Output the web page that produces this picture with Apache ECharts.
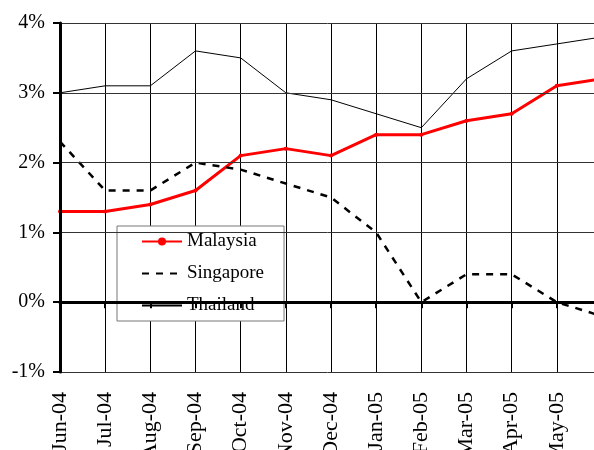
<!DOCTYPE html>
<html>
<head>
<meta charset="utf-8">
<script src="https://cdn.jsdelivr.net/npm/echarts@6/dist/echarts.min.js"></script>
<style>
  html, body { margin: 0; padding: 0; background: #fff; }
  #chart { width: 594px; height: 450px; }
</style>
</head>
<body>
<div id="chart"></div>
<script>
// months along the bottom
const months = ['Jun-04', 'Jul-04', 'Aug-04', 'Sep-04', 'Oct-04', 'Nov-04', 'Dec-04',
  'Jan-05', 'Feb-05', 'Mar-05', 'Apr-05', 'May-05', 'Jun-05'];

// inflation, % per year
const malaysia = [1.3, 1.3, 1.4, 1.6, 2.1, 2.2, 2.1, 2.4, 2.4, 2.6, 2.7, 3.1, 3.2];
const singapore = [2.3, 1.6, 1.6, 2.0, 1.9, 1.7, 1.5, 1.0, 0.0, 0.4, 0.4, 0.0, -0.2];
const thailand = [3.0, 3.1, 3.1, 3.6, 3.5, 3.0, 2.9, 2.7, 2.5, 3.2, 3.6, 3.7, 3.8];

const yTicks = [-1, 0, 1, 2, 3, 4];

const serif = 'Liberation Serif';

let chart = echarts.init(document.getElementById('chart'));

chart.setOption({
  animation: false,
  grid: { left: 60, right: -8, top: 23, bottom: 78, outerBoundsMode: 'none', containLabel: false },
  legend: {
    orient: 'vertical',
    left: 117,
    top: 226,
    padding: [6, 20, 6, 24],
    itemGap: 13,
    itemWidth: 40,
    itemHeight: 10,
    itemTextGap: 3,
    backgroundColor: '#fff',
    borderColor: '#777',
    borderWidth: 1,
    textStyle: { fontFamily: serif, fontSize: 19, color: '#000' },
    data: [
      { name: 'Malaysia' },
      { name: 'Singapore', itemStyle: { opacity: 0 } },
      { name: 'Thailand', itemStyle: { opacity: 0 } }
    ]
  },
  xAxis: [
    {
      type: 'category',
      data: months,
      boundaryGap: false,
      axisLine: { show: false, onZero: false },
      axisTick: { show: false },
      axisLabel: {
        rotate: 90,
        margin: 20,
        interval: 0,
        showMaxLabel: true,
        hideOverlap: false,
        fontFamily: serif,
        fontSize: 22,
        color: '#000'
      },
      splitLine: { show: true, lineStyle: { color: '#000', width: 1 } }
    },
    {
      // the thick zero line with its little ticks
      type: 'category',
      data: months,
      boundaryGap: false,
      position: 'bottom',
      z: 10,
      axisLine: { show: true, onZero: true, lineStyle: { color: '#000', width: 3 } },
      axisTick: { show: true, inside: false, length: 6, interval: 0, lineStyle: { color: '#000', width: 2 } },
      axisLabel: { show: false },
      splitLine: { show: false }
    }
  ],
  yAxis: {
    type: 'value',
    min: yTicks[0],
    max: yTicks[yTicks.length - 1],
    interval: 1,
    z: 10,
    axisLine: { show: true, lineStyle: { color: '#000', width: 3 } },
    axisTick: { show: true, length: 7, lineStyle: { color: '#000', width: 2 } },
    axisLabel: {
      margin: 15,
      formatter: '{value}%',
      fontFamily: serif,
      fontSize: 20,
      color: '#000'
    },
    splitLine: { show: true, lineStyle: { color: '#333', width: 1 } }
  },
  series: [
    {
      name: 'Malaysia',
      type: 'line',
      data: malaysia,
      symbol: 'circle',
      symbolSize: 4,
      itemStyle: { color: '#ff0000' },
      lineStyle: { color: '#ff0000', width: 3 }
    },
    {
      name: 'Singapore',
      type: 'line',
      data: singapore,
      symbol: 'none',
      itemStyle: { color: '#000' },
      lineStyle: { color: '#000', width: 2.5, type: [7, 7] }
    },
    {
      name: 'Thailand',
      type: 'line',
      data: thailand,
      symbol: 'none',
      itemStyle: { color: '#000' },
      lineStyle: { color: '#000', width: 1 }
    }
  ]
});
</script>
</body>
</html>
